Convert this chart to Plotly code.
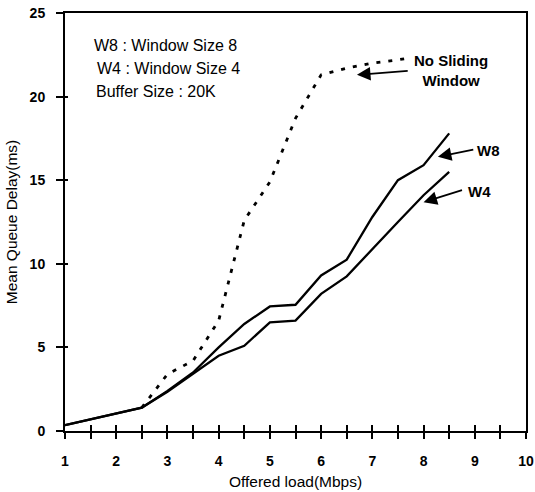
import plotly.graph_objects as go

# Data
load_w = [1, 1.5, 2, 2.5, 3, 3.5, 4, 4.5, 5, 5.5, 6, 6.5, 7, 7.5, 8, 8.5]
w8 = [0.35, 0.7, 1.05, 1.4, 2.4, 3.5, 5.0, 6.4, 7.45, 7.55, 9.3, 10.25, 12.8, 15.0, 15.9, 17.8]
w4 = [0.35, 0.7, 1.05, 1.4, 2.35, 3.4, 4.5, 5.1, 6.5, 6.6, 8.2, 9.25, 10.9, 12.5, 14.1, 15.5]

load_ns = [2.5, 3, 3.5, 4, 4.5, 5, 5.5, 6, 6.5, 7, 7.5, 7.7]
no_sliding = [1.4, 3.4, 4.2, 6.6, 12.6, 14.9, 18.7, 21.3, 21.7, 22.0, 22.2, 22.3]

x_ticks = [1, 2, 3, 4, 5, 6, 7, 8, 9, 10]
y_ticks = [0, 5, 10, 15, 20, 25]

FONT = "Liberation Sans, Arial, sans-serif"

fig = go.Figure()
line_style = dict(color="black", width=2.3)
fig.add_trace(go.Scatter(x=load_w, y=w8, mode="lines", line=line_style, name="W8"))
fig.add_trace(go.Scatter(x=load_w, y=w4, mode="lines", line=line_style, name="W4"))
fig.add_trace(go.Scatter(x=load_ns, y=no_sliding, mode="lines",
                         line=dict(color="black", width=2.8, dash="4px,8px"),
                         name="No Sliding Window"))
# helper trace for overlay axis (inside ticks)
fig.add_trace(go.Scatter(x=[1, 10], y=[0, 25], mode="lines", line=dict(width=0),
                         xaxis="x2", yaxis="y2", hoverinfo="skip", showlegend=False))

fig.update_layout(
    width=535, height=492,
    margin=dict(l=65, r=9, t=13, b=61),
    paper_bgcolor="white", plot_bgcolor="white",
    showlegend=False,
    font=dict(family=FONT, size=12, color="black"),
    xaxis=dict(range=[1, 10], tickvals=x_ticks, ticks="outside", ticklen=6, tickwidth=2,
               tickcolor="black", showline=True, linecolor="black", linewidth=2,
               mirror=True, showgrid=False, zeroline=False, automargin=False,
               ticklabelstandoff=10,
               minor=dict(dtick=0.5, tick0=1, ticks="outside", ticklen=6, tickwidth=2, tickcolor="black"),
               tickfont=dict(family=FONT, size=14, color="black", weight="bold"),
               title=dict(text="Offered load(Mbps)", font=dict(family=FONT, size=15.5), standoff=8)),
    yaxis=dict(range=[0, 25], tickvals=y_ticks, ticks="outside", ticklen=7, tickwidth=2,
               tickcolor="black", showline=True, linecolor="black", linewidth=2,
               mirror=True, showgrid=False, zeroline=False, automargin=False,
               ticklabelstandoff=8,
               tickfont=dict(family=FONT, size=14, color="black", weight="bold"),
               title=dict(text="Mean Queue Delay(ms)", font=dict(family=FONT, size=15.5), standoff=8)),
    xaxis2=dict(range=[1, 10], overlaying="x", anchor="y2", side="bottom",
                tickvals=[1 + 0.5 * i for i in range(19)], ticks="inside", ticklen=6, tickwidth=2,
                tickcolor="black", showticklabels=False, showgrid=False, zeroline=False,
                showline=False, automargin=False),
    yaxis2=dict(range=[0, 25], overlaying="y", anchor="x2", side="left",
                tickvals=y_ticks, ticks="inside", ticklen=3, tickwidth=2,
                tickcolor="black", showticklabels=False, showgrid=False, zeroline=False,
                showline=False, automargin=False),
)

# Text box
for txt, xx, yy in [("W8 : Window Size 8", 1.53, 23.04),
                    ("W4 : Window Size 4", 1.59, 21.69),
                    ("Buffer Size : 20K", 1.56, 20.3)]:
    fig.add_annotation(x=xx, y=yy, text=txt, showarrow=False, xanchor="left", yanchor="middle",
                       font=dict(family=FONT, size=16))

# Arrow labels
arrow_common = dict(showarrow=True, arrowhead=2, arrowsize=1.5, arrowwidth=1.8, arrowcolor="black",
                    axref="x", ayref="y")
fig.add_annotation(x=6.70, y=21.3, ax=7.72, ay=21.55, text="", **arrow_common)
fig.add_annotation(x=8.54, y=21.55, text="<b>No Sliding<br>Window</b>", showarrow=False,
                   font=dict(family=FONT, size=15), align="center")
fig.add_annotation(x=8.28, y=16.4, ax=9.0, ay=16.85, text="", **arrow_common)
fig.add_annotation(x=9.27, y=16.8, text="<b>W8</b>", showarrow=False, font=dict(family=FONT, size=15))
fig.add_annotation(x=8.0, y=13.68, ax=8.78, ay=14.43, text="", **arrow_common)
fig.add_annotation(x=9.1, y=14.35, text="<b>W4</b>", showarrow=False, font=dict(family=FONT, size=15))

fig.write_html("out.html")
